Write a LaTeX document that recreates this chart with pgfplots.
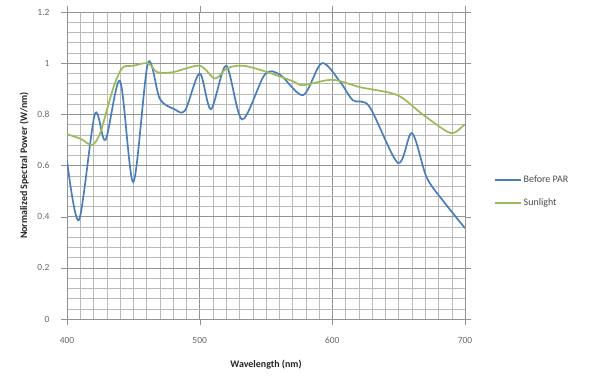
\documentclass[border=0pt]{standalone}
\usepackage{pgfplots}
\pgfplotsset{compat=1.18}
\usepackage{fontspec}
\setmainfont{Carlito}
\definecolor{exblue}{HTML}{4A7EBB}
\definecolor{exgreen}{HTML}{9BBB59}
\begin{document}
\begin{tikzpicture}
\path[use as bounding box] (0,0) rectangle (590bp,376bp);
\begin{axis}[
  at={(67bp,57bp)}, anchor=south west,
  scale only axis, width=398bp, height=307bp,
  xmin=400, xmax=700, ymin=0, ymax=1.2,
  xtick={400,500,600,700}, ytick={0,0.2,...,1.2},
  yticklabels={0,0.2,0.4,0.6,0.8,1,1.2},
  minor x tick num=9, minor y tick num=4,
  grid=both,
  major grid style={gray!85, line width=0.6pt},
  minor grid style={gray!55, line width=0.45pt},
  axis line style={gray!85},
  tick style={gray!85},
  tick align=outside,
  major tick length=6bp, minor tick length=0pt,
  /pgf/number format/assume math mode=true,
  ticklabel style={font=\fontsize{9.5}{11}\selectfont, text=black!60},
  xticklabel style={yshift=-9bp},
  yticklabel style={xshift=-8bp},
  xlabel={\bfseries Wavelength (nm)},
  ylabel={\bfseries Normalized Spectral Power (W/nm)},
  label style={font=\fontsize{10}{12}\selectfont, text=black!85},
  xlabel style={yshift=-9bp},
  ylabel style={yshift=2bp},
  legend style={at={(1.065,0.415)}, anchor=west, draw=none, fill=none,
    font=\fontsize{10}{12}\selectfont, text=black!70, row sep=11bp},
  legend cell align=left,
  legend image code/.code={\draw[#1] (0bp,0bp) -- (26bp,0bp);},
]
\addplot[exblue, line width=1.7pt, smooth, tension=0.5] coordinates {
(400,0.62) (409,0.387) (421,0.80) (429,0.70) (440,0.93) (450,0.535)
(461,1.0) (470,0.86) (481,0.82) (489,0.815) (500,0.96) (508.5,0.82)
(520,0.99) (532,0.78) (549,0.955) (560.5,0.955) (578,0.875) (592,1.0)
(606,0.926) (615.5,0.855) (628,0.83) (649.5,0.61) (660,0.727)
(671,0.555) (683,0.465) (700,0.355)
};
\addlegendentry{Before PAR}
\addplot[exgreen, line width=1.7pt, smooth, tension=0.5] coordinates {
(400,0.722) (410,0.705) (419,0.68) (425,0.726) (430,0.816) (436,0.92)
(442,0.983) (450,0.99) (461,1.0) (468,0.965) (480,0.965) (500,0.99)
(511.5,0.94) (520.5,0.98) (533,0.99) (551,0.965) (570,0.93) (578,0.914)
(600,0.935) (621,0.906) (649,0.875) (668,0.80) (689,0.727) (698.5,0.755) (700,0.76)
};
\addlegendentry{Sunlight}
\end{axis}
\end{tikzpicture}
\end{document}
